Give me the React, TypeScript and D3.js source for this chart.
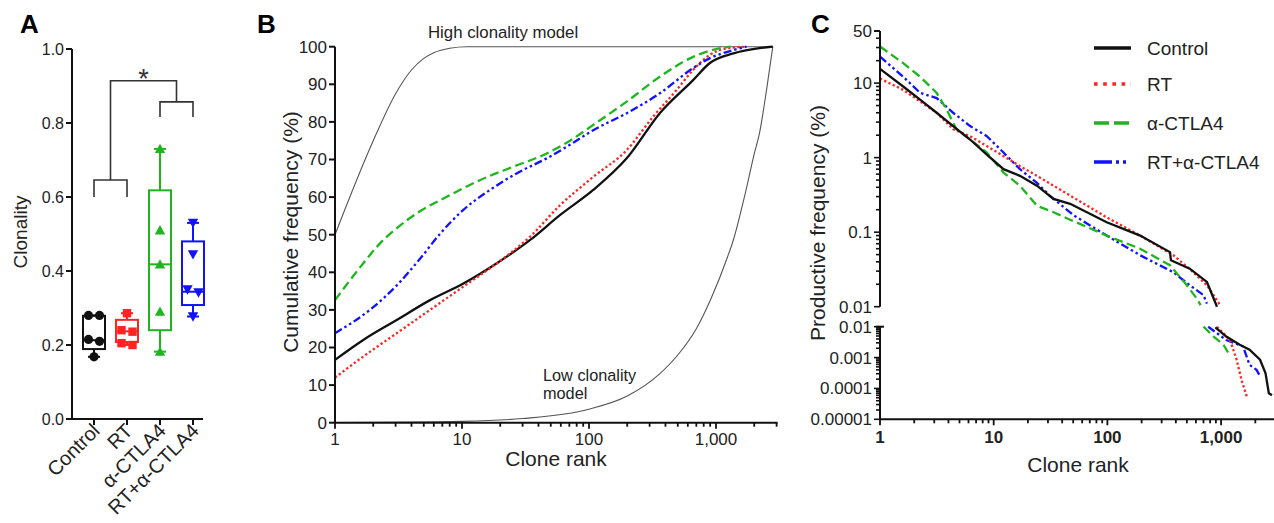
import React from "react";
import * as d3 from "d3";

// ---------- DATA ----------
const groups = ["Control", "RT", "α-CTLA4", "RT+α-CTLA4"];
const groupColors = ["#111111", "#ff2424", "#1fb51f", "#1212ff"];
const groupMarkers = ["circle", "square", "triangle", "triangleDown"];

const clonControl = [0.28, 0.28, 0.215, 0.21, 0.168];
const clonRT = [0.286, 0.24, 0.236, 0.205, 0.2];
const clonACTLA4 = [0.73, 0.51, 0.418, 0.29, 0.182];
const clonRTACTLA4 = [0.53, 0.445, 0.35, 0.342, 0.277];
// [min, q1, median, q3, max]
const boxControl = [0.168, 0.189, 0.213, 0.279, 0.28];
const boxRT = [0.2, 0.208, 0.237, 0.268, 0.286];
const boxACTLA4 = [0.182, 0.24, 0.418, 0.618, 0.73];
const boxRTACTLA4 = [0.277, 0.308, 0.344, 0.48, 0.53];
const clonTicks = [0, 0.2, 0.4, 0.6, 0.8, 1.0];

const cumHigh: [number, number][] = [[1, 50], [2, 75], [3, 87.5], [4, 93.8], [5, 96.9], [6, 98.4], [8, 99.6], [11, 100], [2800, 100]];
const cumLow: [number, number][] = [[1, 0.04], [10, 0.36], [30, 1.1], [100, 3.6], [200, 7.1], [360, 13], [500, 18], [700, 25], [900, 32.5], [1230, 44], [1370, 48.6], [1700, 61], [2000, 71.5], [2200, 77], [2500, 88.5], [2800, 100]];
const cumControl: [number, number][] = [[1, 16.7], [1.67, 22], [3.06, 27.3], [5.6, 32.6], [10.25, 37], [18.8, 42.4], [34.4, 48.6], [59, 55.2], [108, 61.9], [198, 70.3], [361, 82.3], [660, 91.1], [890, 95.6], [1370, 98.2], [2200, 99.6], [2800, 100]];
const cumRT: [number, number][] = [[1, 12], [1.67, 17.6], [3.06, 23.8], [5.6, 30], [10.25, 36.2], [18.8, 42.4], [34.4, 49.5], [59, 57.8], [108, 65.4], [198, 72.5], [320, 81.4], [490, 88.5], [660, 93.8], [890, 97.8], [1230, 99.6], [1740, 100]];
const cumACTLA4: [number, number][] = [[1, 32.6], [1.67, 42.4], [2.26, 47.7], [3.06, 51.7], [4.4, 55.7], [7.6, 60.1], [13.8, 64.5], [25.4, 68.1], [46.4, 71.6], [70.7, 75], [108, 79.2], [198, 85.4], [361, 92], [660, 97.3], [1080, 99.6], [1300, 100]];
const cumRTACTLA4: [number, number][] = [[1, 23.8], [1.88, 30], [3.06, 36.5], [4.67, 43.6], [6.7, 50.2], [10.25, 56.6], [16.6, 61.9], [26.9, 66.3], [46.4, 70.3], [70.7, 73.9], [108, 77.8], [198, 82.3], [361, 87.6], [660, 94.3], [890, 96.9], [1370, 99.1], [1740, 100]];
const cumTicks = [0, 10, 20, 30, 40, 50, 60, 70, 80, 90, 100];

const rankTicks = [1, 10, 100, 1000];
const rankTickLabels = ["1", "10", "100", "1,000"];

const freqControlTop: [number, number][] = [[1, 15.5], [1.6, 9], [2.25, 6], [3.15, 4], [4.4, 2.65], [6.2, 1.75], [8.7, 1.1], [12.2, 0.7], [17, 0.57], [24, 0.42], [33.6, 0.28], [47, 0.24], [98.6, 0.136], [194, 0.09], [355, 0.054], [362, 0.042], [530, 0.0324], [750, 0.0215], [860, 0.0129], [920, 0.01]];
const freqControlBottom: [number, number][] = [[890, 0.0095], [1110, 0.0048], [1460, 0.0026], [1780, 0.0018], [2200, 0.00085], [2460, 0.00031], [2630, 0.00007], [2800, 0.00006]];
const freqRTTop: [number, number][] = [[1, 11.5], [1.6, 8.1], [3.15, 4], [4.4, 2.4], [6.2, 1.94], [8.7, 1.43], [12.2, 1.05], [17, 0.77], [24, 0.57], [33.6, 0.42], [47, 0.31], [98.6, 0.158], [194, 0.09], [380, 0.049], [530, 0.032], [750, 0.0194], [980, 0.0105]];
const freqRTBottom: [number, number][] = [[920, 0.01], [1200, 0.0037], [1370, 0.00085], [1510, 0.00019], [1680, 0.000055]];
const freqACTLA4Top: [number, number][] = [[1, 31], [1.6, 18.5], [2.25, 12.2], [3.15, 7.4], [3.86, 4.4], [4.7, 2.4], [6.2, 1.75], [8.7, 1.17], [12.2, 0.63], [17, 0.42], [24, 0.226], [33.6, 0.185], [47, 0.147], [98.6, 0.09], [194, 0.06], [355, 0.036], [500, 0.0194], [610, 0.0129], [660, 0.0105]];
const freqACTLA4Bottom: [number, number][] = [[700, 0.01], [860, 0.0048], [1050, 0.0026], [1160, 0.0014]];
const freqRTACTLA4Top: [number, number][] = [[1, 22.6], [1.6, 12.2], [2.25, 7.4], [3.15, 6.3], [4.4, 4], [6.2, 2.65], [8.7, 1.94], [12.2, 1.17], [17, 0.7], [24, 0.46], [31, 0.31], [50, 0.17], [98.6, 0.09], [194, 0.049], [380, 0.029], [530, 0.0194], [700, 0.0143], [750, 0.011]];
const freqRTACTLA4Bottom: [number, number][] = [[770, 0.01], [1110, 0.0037], [1560, 0.0023], [1780, 0.00058], [2050, 0.0004], [2200, 0.00025]];
const freqTopTicks = [50, 10, 1, 0.1, 0.01];
const freqTopTickLabels = ["50", "10", "1", "0.1", "0.01"];
const freqBottomTicks = [0.01, 0.001, 0.0001, 0.00001];
const freqBottomTickLabels = ["0.01", "0.001", "0.0001", "0.00001"];

// ---------- STYLE ----------
const FONT = "'Liberation Sans', Arial, Helvetica, sans-serif";
const AX = "#111";
const TXT = "#222";
const lineStyles = [
  { dash: "none", w: 2.3 },
  { dash: "2.3 2.4", w: 2.3 },
  { dash: "9 4.5", w: 2.3 },
  { dash: "8 3 2.5 3 2.5 3", w: 2.3 },
];
const legendDash = ["none", "3.6 5.6", "15 5", "18 4 3 4 3 5"];

function logMinor(min: number, max: number) {
  const out: { v: number; major: boolean }[] = [];
  for (let e = Math.floor(Math.log10(min)); e <= Math.ceil(Math.log10(max)); e++) {
    const d = Math.pow(10, e);
    for (let m = 1; m <= 9; m++) {
      const v = m * d;
      if (v >= min * 0.9999 && v <= max * 1.0001) out.push({ v, major: m === 1 });
    }
  }
  return out;
}

function jitter(vals: number[]) {
  const off = vals.map(() => 0);
  const used = vals.map(() => false);
  for (let i = 0; i < vals.length; i++) {
    if (used[i]) continue;
    for (let j = i + 1; j < vals.length; j++) {
      if (!used[j] && Math.abs(vals[i] - vals[j]) < 0.025) {
        off[i] = -5.5;
        off[j] = 5.5;
        used[i] = used[j] = true;
        break;
      }
    }
  }
  return off;
}

function Marker({ type, x, y, color }: { type: string; x: number; y: number; color: string }) {
  if (type === "circle") return <circle cx={x} cy={y} r={4.6} fill={color} />;
  if (type === "square") return <rect x={x - 4.2} y={y - 4.2} width={8.4} height={8.4} fill={color} />;
  const s = 5.2;
  if (type === "triangle")
    return <path d={`M${x},${y - s}L${x + s},${y + s * 0.8}L${x - s},${y + s * 0.8}Z`} fill={color} />;
  return <path d={`M${x},${y + s}L${x + s},${y - s * 0.8}L${x - s},${y - s * 0.8}Z`} fill={color} />;
}

function PanelA() {
  const y = d3.scaleLinear().domain([0, 1]).range([419, 49]);
  const x = d3.scalePoint<string>().domain(groups).range([94, 193]);
  const pts = [clonControl, clonRT, clonACTLA4, clonRTACTLA4];
  const boxes = [boxControl, boxRT, boxACTLA4, boxRTACTLA4];
  const bw = 22;
  const cap = 12;
  const xl = (x(groups[0])! + x(groups[1])!) / 2;
  const xr = (x(groups[2])! + x(groups[3])!) / 2;
  return (
    <g>
      <text x={20} y={33} fontSize={26} fontWeight="bold" fill="#000">A</text>
      {/* axes */}
      <line x1={72} x2={72} y1={y(1)} y2={y(0) + 1} stroke={AX} strokeWidth={2} />
      <line x1={71} x2={203} y1={y(0)} y2={y(0)} stroke={AX} strokeWidth={2} />
      {clonTicks.map((t) => (
        <g key={t}>
          <line x1={66} x2={72} y1={y(t)} y2={y(t)} stroke={AX} strokeWidth={2} />
          <text x={64} y={y(t)} dy="0.35em" textAnchor="end" fontSize={16} fill={TXT}>{t.toFixed(1)}</text>
        </g>
      ))}
      {groups.map((g, i) => (
        <g key={g}>
          <line x1={x(g)} x2={x(g)} y1={y(0)} y2={y(0) + 6} stroke={AX} strokeWidth={2} />
          <text transform={`translate(${x(g)! + 7},${y(0) + 13}) rotate(-45)`} textAnchor="end" fontSize={20} fill={TXT}>{g}</text>
        </g>
      ))}
      <text transform={`translate(27,232) rotate(-90)`} textAnchor="middle" fontSize={19} fill={TXT}>Clonality</text>
      {/* boxes */}
      {boxes.map((b, i) => {
        const cx = x(groups[i])!;
        const c = groupColors[i];
        return (
          <g key={i} stroke={c} strokeWidth={2} fill="none">
            <line x1={cx} x2={cx} y1={y(b[0])} y2={y(b[1])} />
            <line x1={cx} x2={cx} y1={y(b[3])} y2={y(b[4])} />
            <line x1={cx - cap / 2} x2={cx + cap / 2} y1={y(b[0])} y2={y(b[0])} />
            <line x1={cx - cap / 2} x2={cx + cap / 2} y1={y(b[4])} y2={y(b[4])} />
            <rect x={cx - bw / 2} y={y(b[3])} width={bw} height={y(b[1]) - y(b[3])} />
            <line x1={cx - bw / 2} x2={cx + bw / 2} y1={y(b[2])} y2={y(b[2])} />
          </g>
        );
      })}
      {pts.map((arr, i) => {
        const off = jitter(arr);
        return arr.map((v, j) => (
          <Marker key={`${i}-${j}`} type={groupMarkers[i]} x={x(groups[i])! + off[j]} y={y(v)} color={groupColors[i]} />
        ));
      })}
      {/* significance brackets */}
      <g stroke="#333" strokeWidth={1.6} fill="none">
        <path d={`M${x(groups[0])},${y(0.6)}V${y(0.646)}H${x(groups[1])}V${y(0.6)}`} />
        <path d={`M${x(groups[2])},${y(0.816)}V${y(0.857)}H${x(groups[3])}V${y(0.816)}`} />
        <path d={`M${xl},${y(0.646)}V${y(0.914)}H${xr}V${y(0.857)}`} />
      </g>
      <text x={(xl + xr) / 2} y={y(0.914) + 7} textAnchor="middle" fontSize={27} fill="#333">*</text>
    </g>
  );
}

function PanelB() {
  const x = d3.scaleLog().domain([1, 3000]).range([335, 776.6]);
  const y = d3.scaleLinear().domain([0, 100]).range([422.7, 46.7]);
  const line = d3.line<[number, number]>().x((d) => x(d[0])).y((d) => y(d[1])).curve(d3.curveMonotoneX);
  const series = [cumControl, cumRT, cumACTLA4, cumRTACTLA4];
  const minor = logMinor(1, 3000);
  return (
    <g>
      <text x={257} y={33} fontSize={26} fontWeight="bold" fill="#000">B</text>
      <path d={line(cumHigh)!} fill="none" stroke="#555" strokeWidth={1.1} />
      <path d={line(cumLow)!} fill="none" stroke="#555" strokeWidth={1.1} />
      <text x={428} y={38} fontSize={16.8} fill={TXT}>High clonality model</text>
      <text x={543} y={381} fontSize={16.3} fill={TXT}>Low clonality</text>
      <text x={543} y={399} fontSize={16.3} fill={TXT}>model</text>
      {series.map((s, i) => (
        <path key={i} d={line(s)!} fill="none" stroke={groupColors[i]} strokeWidth={lineStyles[i].w}
          strokeDasharray={lineStyles[i].dash} />
      ))}
      <line x1={335} x2={335} y1={y(100)} y2={y(0) + 1} stroke={AX} strokeWidth={2} />
      <line x1={334} x2={x(3000) + 1} y1={y(0)} y2={y(0)} stroke={AX} strokeWidth={2} />
      {cumTicks.map((t) => (
        <g key={t}>
          <line x1={329} x2={335} y1={y(t)} y2={y(t)} stroke={AX} strokeWidth={2} />
          <text x={327} y={y(t)} dy="0.35em" textAnchor="end" fontSize={17} fill={TXT}>{t}</text>
        </g>
      ))}
      {minor.map((m) => (
        <line key={m.v} x1={x(m.v)} x2={x(m.v)} y1={y(0)} y2={y(0) + (m.major ? 6 : 4)} stroke={AX} strokeWidth={1.8} />
      ))}
      {rankTicks.map((t, i) => (
        <text key={t} x={x(t)} y={y(0) + 22} textAnchor="middle" fontSize={17} fill={TXT}>{rankTickLabels[i]}</text>
      ))}
      <text x={556} y={466} textAnchor="middle" fontSize={21} fill={TXT}>Clone rank</text>
      <text transform={`translate(298,232) rotate(-90)`} textAnchor="middle" fontSize={21} fill={TXT}>Cumulative frequency (%)</text>
    </g>
  );
}

function PanelC() {
  const x = d3.scaleLog().domain([1, 3000]).range([880, 880 + Math.log10(3000) * 113.7]);
  const yTop = d3.scaleLog().domain([0.01, 50]).range([306.7, 31]);
  const yBot = d3.scaleLog().domain([0.00001, 0.01]).range([419.3, 326.7]);
  const lineTop = d3.line<[number, number]>().x((d) => x(d[0])).y((d) => yTop(d[1]));
  const lineBot = d3.line<[number, number]>().x((d) => x(d[0])).y((d) => yBot(d[1]));
  const tops = [freqControlTop, freqRTTop, freqACTLA4Top, freqRTACTLA4Top];
  const bots = [freqControlBottom, freqRTBottom, freqACTLA4Bottom, freqRTACTLA4Bottom];
  const xMinor = logMinor(1, 3000);
  const topMinor = logMinor(0.01, 50);
  const botMinor = logMinor(0.00001, 0.01);
  const order = [3, 2, 1, 0];
  return (
    <g>
      <text x={811} y={33} fontSize={26} fontWeight="bold" fill="#000">C</text>
      {order.map((i) => (
        <g key={i} fill="none" stroke={groupColors[i]} strokeWidth={lineStyles[i].w} strokeDasharray={lineStyles[i].dash}>
          <path d={lineTop(tops[i])!} />
          <path d={lineBot(bots[i])!} />
        </g>
      ))}
      {/* y axis top */}
      <line x1={880} x2={880} y1={yTop(50)} y2={yTop(0.01)} stroke={AX} strokeWidth={2} />
      {topMinor.map((m) => (
        <line key={m.v} x1={880 - (m.major ? 6 : 4)} x2={880} y1={yTop(m.v)} y2={yTop(m.v)} stroke={AX} strokeWidth={1.6} />
      ))}
      <line x1={874} x2={880} y1={yTop(50)} y2={yTop(50)} stroke={AX} strokeWidth={2} />
      {freqTopTicks.map((t, i) => (
        <text key={t} x={872} y={yTop(t)} dy="0.35em" textAnchor="end" fontSize={17} fill={TXT}>{freqTopTickLabels[i]}</text>
      ))}
      {/* y axis bottom */}
      <line x1={880} x2={880} y1={yBot(0.01)} y2={yBot(0.00001) + 1} stroke={AX} strokeWidth={2} />
      <line x1={876} x2={884} y1={yBot(0.01)} y2={yBot(0.01)} stroke={AX} strokeWidth={2} />
      {botMinor.map((m) => (
        <line key={m.v} x1={880 - (m.major ? 6 : 4)} x2={880} y1={yBot(m.v)} y2={yBot(m.v)} stroke={AX} strokeWidth={1.6} />
      ))}
      {freqBottomTicks.map((t, i) => (
        <text key={t} x={872} y={yBot(t)} dy="0.35em" textAnchor="end" fontSize={17} fill={TXT}>{freqBottomTickLabels[i]}</text>
      ))}
      {/* x axis */}
      <line x1={879} x2={1274} y1={yBot(0.00001)} y2={yBot(0.00001)} stroke={AX} strokeWidth={2} />
      {xMinor.map((m) => (
        <line key={m.v} x1={x(m.v)} x2={x(m.v)} y1={yBot(0.00001)} y2={yBot(0.00001) + (m.major ? 6 : 4)} stroke={AX} strokeWidth={1.8} />
      ))}
      {rankTicks.map((t, i) => (
        <text key={t} x={x(t)} y={yBot(0.00001) + 24} textAnchor="middle" fontSize={17} fontWeight="bold" fill={TXT}>{rankTickLabels[i]}</text>
      ))}
      <text x={1078} y={472} textAnchor="middle" fontSize={21} fill={TXT}>Clone rank</text>
      <text transform={`translate(825,223) rotate(-90)`} textAnchor="middle" fontSize={21} fill={TXT}>Productive frequency (%)</text>
      {/* legend */}
      {groups.map((g, i) => {
        const ly = [48, 84, 123, 162][i];
        return (
          <g key={g}>
            <line x1={1094} x2={1131} y1={ly} y2={ly} stroke={groupColors[i]} strokeWidth={3.6} strokeDasharray={legendDash[i]} />
            <text x={1147} y={ly} dy="0.35em" fontSize={19} fill={TXT}>{g}</text>
          </g>
        );
      })}
    </g>
  );
}

export default function App() {
  return (
    <svg width={1274} height={523} style={{ position: "absolute", left: 0, top: 0, background: "#fff" }} fontFamily={FONT}>
      <rect width={1274} height={523} fill="#fff" />
      <PanelA />
      <PanelB />
      <PanelC />
    </svg>
  );
}
